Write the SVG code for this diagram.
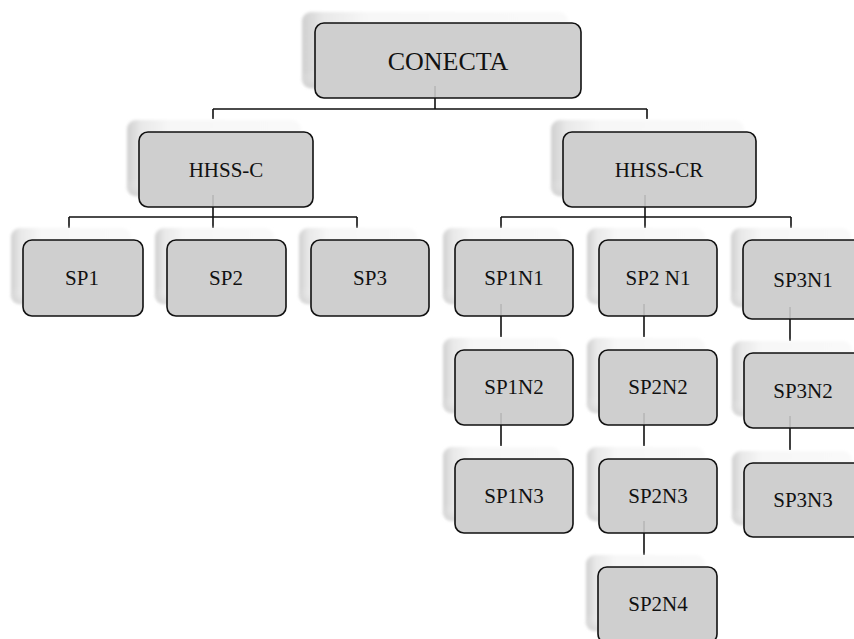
<svg xmlns="http://www.w3.org/2000/svg" width="854" height="639" viewBox="0 0 854 639" font-family="'Liberation Serif', 'DejaVu Serif', serif">
  <defs>
    <linearGradient id="shadeH" x1="0" y1="0" x2="1" y2="0">
      <stop offset="0" stop-color="#cfcfcf"/>
      <stop offset="0.08" stop-color="#e8e8e8"/>
      <stop offset="0.25" stop-color="#f7f7f7"/>
      <stop offset="1" stop-color="#f9f9f9"/>
    </linearGradient>
    <linearGradient id="shadeV" x1="0" y1="0" x2="0" y2="1">
      <stop offset="0" stop-color="#ffffff" stop-opacity="0"/>
      <stop offset="0.78" stop-color="#ffffff" stop-opacity="0"/>
      <stop offset="1" stop-color="#c4c4c4" stop-opacity="0.5"/>
    </linearGradient>
    <filter id="soft" x="-10%" y="-10%" width="120%" height="120%">
      <feGaussianBlur stdDeviation="1.5"/>
    </filter>
  </defs>
  <style>
    .back { fill: url(#shadeH); filter: url(#soft); }
    .backv { fill: url(#shadeV); filter: url(#soft); }
    .box { fill: #cfcfcf; stroke: #111; stroke-width: 1.6; }
    .lbl { font-family: "Liberation Serif", "DejaVu Serif", "Times New Roman", serif; font-size: 21px; fill: #111; text-anchor: middle; }
    .big { font-size: 26px; }
    .wire { fill: none; stroke: #111; stroke-width: 1.6; }
    .ghost { stroke: #a8a8a8; stroke-width: 1; }
  </style>

  <rect width="854" height="639" fill="#ffffff"/>

  <!-- connectors -->
  <g id="connectors">
    <path class="wire" d="M435 98V109M213 109H647M213 109V119M647 109V119"/>
    <path class="wire" d="M213 207V228M69 217H357M69 217V228M357 217V228"/>
    <path class="wire" d="M645 207V228M501 217H791M501 217V228M791 217V228"/>
    <path class="wire" d="M501 316V337M501 425V446"/>
    <path class="wire" d="M644 316V337M644 425V446M644 533V555"/>
    <path class="wire" d="M790 319V341M790 428V450"/>
  </g>

  <g id="conecta">
    <rect class="back" x="302" y="12" width="266" height="76" rx="9"/>
    <rect class="backv" x="302" y="12" width="266" height="76" rx="9"/>
    <rect class="box" x="315" y="23" width="266" height="75" rx="9"/>
    <line class="ghost" x1="435" y1="86" x2="435" y2="97"/>
    <text class="lbl big" x="448" y="70">CONECTA</text>
  </g>

  <g id="hhss-c">
    <rect class="back" x="127" y="120" width="174" height="76" rx="9"/>
    <rect class="backv" x="127" y="120" width="174" height="76" rx="9"/>
    <rect class="box" x="139" y="132" width="174" height="75" rx="9"/>
    <line class="ghost" x1="213" y1="195" x2="213" y2="206"/>
    <text class="lbl" x="226" y="177">HHSS-C</text>
  </g>

  <g id="hhss-cr">
    <rect class="back" x="551" y="120" width="193" height="76" rx="9"/>
    <rect class="backv" x="551" y="120" width="193" height="76" rx="9"/>
    <rect class="box" x="563" y="132" width="193" height="75" rx="9"/>
    <line class="ghost" x1="645" y1="195" x2="645" y2="206"/>
    <text class="lbl" x="659" y="177">HHSS-CR</text>
  </g>

  <g id="sp1">
    <rect class="back" x="11" y="228" width="120" height="76" rx="9"/>
    <rect class="backv" x="11" y="228" width="120" height="76" rx="9"/>
    <rect class="box" x="23" y="240" width="120" height="76" rx="9"/>
    <text class="lbl" x="82" y="285">SP1</text>
  </g>

  <g id="sp2">
    <rect class="back" x="155" y="228" width="119" height="76" rx="9"/>
    <rect class="backv" x="155" y="228" width="119" height="76" rx="9"/>
    <rect class="box" x="167" y="240" width="119" height="76" rx="9"/>
    <text class="lbl" x="226" y="285">SP2</text>
  </g>

  <g id="sp3">
    <rect class="back" x="299" y="228" width="118" height="76" rx="9"/>
    <rect class="backv" x="299" y="228" width="118" height="76" rx="9"/>
    <rect class="box" x="311" y="240" width="118" height="76" rx="9"/>
    <text class="lbl" x="370" y="285">SP3</text>
  </g>

  <g id="sp1n1">
    <rect class="back" x="443" y="228" width="118" height="76" rx="9"/>
    <rect class="backv" x="443" y="228" width="118" height="76" rx="9"/>
    <rect class="box" x="455" y="240" width="118" height="76" rx="9"/>
    <line class="ghost" x1="501" y1="304" x2="501" y2="315"/>
    <text class="lbl" x="514" y="285">SP1N1</text>
  </g>

  <g id="sp2n1">
    <rect class="back" x="587" y="228" width="118" height="76" rx="9"/>
    <rect class="backv" x="587" y="228" width="118" height="76" rx="9"/>
    <rect class="box" x="599" y="240" width="118" height="76" rx="9"/>
    <line class="ghost" x1="644" y1="304" x2="644" y2="315"/>
    <text class="lbl" x="658" y="285">SP2 N1</text>
  </g>

  <g id="sp3n1">
    <rect class="back" x="731" y="228" width="120" height="79" rx="9"/>
    <rect class="backv" x="731" y="228" width="120" height="79" rx="9"/>
    <rect class="box" x="743" y="240" width="120" height="79" rx="9"/>
    <line class="ghost" x1="790" y1="307" x2="790" y2="318"/>
    <text class="lbl" x="803" y="287">SP3N1</text>
  </g>

  <g id="sp1n2">
    <rect class="back" x="443" y="338" width="118" height="75" rx="9"/>
    <rect class="backv" x="443" y="338" width="118" height="75" rx="9"/>
    <rect class="box" x="455" y="350" width="118" height="75" rx="9"/>
    <line class="ghost" x1="501" y1="413" x2="501" y2="424"/>
    <text class="lbl" x="514" y="394">SP1N2</text>
  </g>

  <g id="sp2n2">
    <rect class="back" x="587" y="338" width="118" height="75" rx="9"/>
    <rect class="backv" x="587" y="338" width="118" height="75" rx="9"/>
    <rect class="box" x="599" y="350" width="118" height="75" rx="9"/>
    <line class="ghost" x1="644" y1="413" x2="644" y2="424"/>
    <text class="lbl" x="658" y="394">SP2N2</text>
  </g>

  <g id="sp3n2">
    <rect class="back" x="732" y="341" width="120" height="75" rx="9"/>
    <rect class="backv" x="732" y="341" width="120" height="75" rx="9"/>
    <rect class="box" x="744" y="353" width="120" height="75" rx="9"/>
    <line class="ghost" x1="790" y1="416" x2="790" y2="427"/>
    <text class="lbl" x="803" y="398">SP3N2</text>
  </g>

  <g id="sp1n3">
    <rect class="back" x="443" y="447" width="118" height="74" rx="9"/>
    <rect class="backv" x="443" y="447" width="118" height="74" rx="9"/>
    <rect class="box" x="455" y="459" width="118" height="74" rx="9"/>
    <text class="lbl" x="514" y="503">SP1N3</text>
  </g>

  <g id="sp2n3">
    <rect class="back" x="587" y="447" width="118" height="74" rx="9"/>
    <rect class="backv" x="587" y="447" width="118" height="74" rx="9"/>
    <rect class="box" x="599" y="459" width="118" height="74" rx="9"/>
    <line class="ghost" x1="644" y1="521" x2="644" y2="532"/>
    <text class="lbl" x="658" y="503">SP2N3</text>
  </g>

  <g id="sp3n3">
    <rect class="back" x="732" y="451" width="120" height="74" rx="9"/>
    <rect class="backv" x="732" y="451" width="120" height="74" rx="9"/>
    <rect class="box" x="744" y="463" width="120" height="74" rx="9"/>
    <text class="lbl" x="803" y="507">SP3N3</text>
  </g>

  <g id="sp2n4">
    <rect class="back" x="586" y="555" width="119" height="76" rx="9"/>
    <rect class="backv" x="586" y="555" width="119" height="76" rx="9"/>
    <rect class="box" x="598" y="567" width="119" height="76" rx="9"/>
    <text class="lbl" x="658" y="611">SP2N4</text>
  </g>
</svg>
